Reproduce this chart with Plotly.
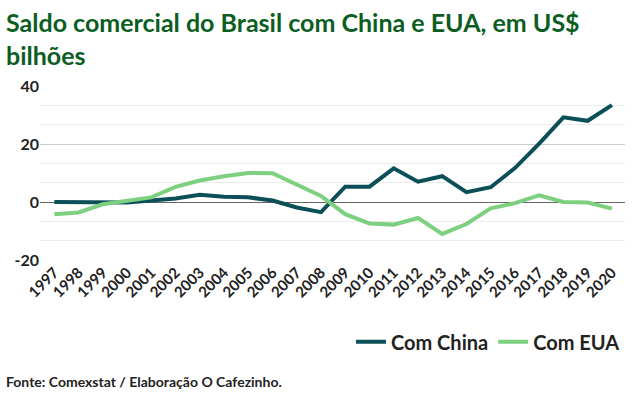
import plotly.graph_objects as go

anos = list(range(1997, 2021))
china = [0.0, 0.0, 0.0, -0.2, 0.5, 1.2, 2.5, 1.8, 1.6, 0.5, -1.9, -3.5, 5.3, 5.3, 11.6, 7.0, 8.9, 3.4, 5.1, 11.7, 20.1, 29.2, 28.0, 33.4]
eua = [-4.2, -3.6, -0.8, 0.4, 1.6, 5.2, 7.4, 8.9, 10.0, 9.9, 6.1, 2.1, -4.2, -7.4, -7.8, -5.5, -11.0, -7.6, -2.2, -0.4, 2.3, 0.0, -0.2, -2.3]
y_ticks = [-20, 0, 20, 40]
titulo = ["Saldo comercial do Brasil com China e EUA, em US$", "bilhões"]
fonte = "Fonte: Comexstat / Elaboração O Cafezinho."

FONT = "Lato"

fig = go.Figure()
fig.add_trace(go.Scatter(x=anos, y=china, mode="lines", name="Com China",
                         line=dict(color="#0b4f59", width=4)))
fig.add_trace(go.Scatter(x=anos, y=eua, mode="lines", name="Com EUA",
                         line=dict(color="#7dd07f", width=4)))

fig.update_layout(
    width=639, height=396,
    paper_bgcolor="white", plot_bgcolor="white",
    margin=dict(l=40, r=14, t=86, b=136),
    font=dict(family=FONT, color="#222222"),
    showlegend=True,
    legend=dict(orientation="h", x=1.0, xanchor="right", y=-0.47, yanchor="middle",
                font=dict(family=FONT, size=20, weight=700, color="#222222"),
                itemwidth=30, traceorder="normal", bgcolor="rgba(0,0,0,0)"),
)
fig.update_xaxes(
    range=[1996.41, 2020.54], tickmode="array", tickvals=anos, ticktext=[str(a) for a in anos],
    tickangle=-45, showgrid=False, zeroline=False, showline=False, ticks="",
    tickfont=dict(family=FONT, size=15, weight=700, color="#222222"),
)
fig.update_yaxes(
    range=[-20, 40], tickmode="array", tickvals=y_ticks, ticktext=[str(v) for v in y_ticks],
    showgrid=True, gridcolor="#cccccc", gridwidth=1,
    zeroline=True, zerolinecolor="#666666", zerolinewidth=1,
    minor=dict(tick0=0, dtick=20/3, showgrid=True, gridcolor="#ebebeb", gridwidth=1),
    tickfont=dict(family=FONT, size=16, weight=700, color="#222222"),
    ticks="", showline=False,
)

fig.add_annotation(
    text="<br>".join(titulo),
    xref="paper", yref="paper", x=0, y=1, xshift=-36, yshift=48,
    xanchor="left", yanchor="middle", align="left", showarrow=False,
    font=dict(family=FONT, size=25, weight=700, color="#0b5e1f"),
)
fig.add_annotation(
    text=fonte,
    xref="paper", yref="paper", x=0, y=0, xshift=-36, yshift=-121,
    xanchor="left", yanchor="middle", align="left", showarrow=False,
    font=dict(family=FONT, size=14, weight=700, color="#222222"),
)

fig.write_html("out.html", config={"displayModeBar": False},
               post_script="document.body.style.margin='0';document.body.style.overflow='hidden';")
